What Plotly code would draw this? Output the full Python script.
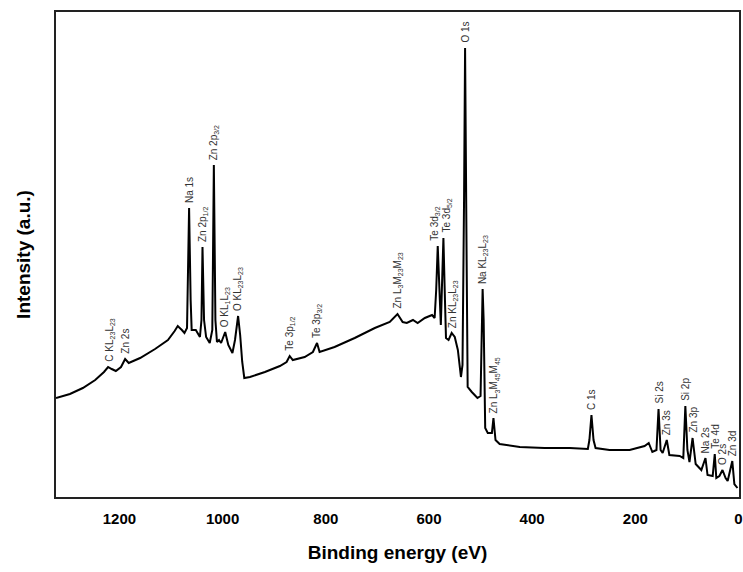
import plotly.graph_objects as go

# Binding energy (eV) and intensity (a.u.)
energy = [1323, 1296, 1271, 1247, 1230, 1222, 1215, 1207, 1197, 1189, 1182, 1160, 1131, 1106,
          1093, 1087, 1079, 1074, 1069, 1065, 1062, 1060, 1052, 1044, 1041, 1039, 1036, 1032,
          1025, 1020, 1017, 1014, 1011, 1007, 1003, 995, 989, 981, 976, 970, 966, 962, 958,
          947, 918, 889, 876, 870, 864, 841, 825, 817, 812, 783, 744, 705, 676, 661, 651, 643,
          631, 622, 608, 594, 589, 586, 583, 580, 577, 575, 572, 569, 567, 562, 556, 550, 544,
          538, 535, 532, 530, 527, 525, 517, 506, 500, 498, 496, 494, 491, 486, 478, 475, 471,
          463, 424, 376, 327, 292, 289, 285, 281, 277, 250, 211, 182, 174, 167, 159, 155, 151,
          147, 139, 134, 114, 107, 103, 99, 95, 89, 83, 72, 64, 60, 50, 46, 43, 37, 31, 25, 21,
          12, 8, 2]
intensity = [99, 103, 109, 117, 125, 130, 128, 126, 130, 138, 134, 139, 148, 157,
             166, 171, 167, 164, 169, 289, 197, 167, 167, 160, 177, 250, 177, 160,
             154, 167, 332, 177, 155, 157, 154, 165, 152, 144, 157, 181, 162, 135, 119,
             120, 125, 131, 135, 141, 137, 140, 145, 154, 145, 150, 159, 169, 175, 183, 175, 174,
             177, 174, 179, 182, 179, 207, 251, 207, 172, 207, 259, 197, 159, 157, 164, 160, 147,
             120, 132, 297, 449, 237, 110, 105, 99, 101, 157, 208, 177, 69, 64, 64, 79, 57,
             53, 50, 49, 49, 48, 57, 82, 57, 49, 47, 47, 51, 54, 45, 47, 88, 47,
             44, 57, 42, 41, 39, 91, 47, 35, 59, 33, 27, 39, 22, 21, 43, 19, 21, 27, 19, 16,
             36, 13, 9]

# Peak labels: text, energy, intensity at top of peak
peak_labels = ["C KL<sub>23</sub>L<sub>23</sub>", "Zn 2s", "Na 1s", "Zn 2p<sub>1/2</sub>",
               "Zn 2p<sub>3/2</sub>", "O KL<sub>1</sub>L<sub>23</sub>", "O KL<sub>23</sub>L<sub>23</sub>",
               "Te 3p<sub>1/2</sub>", "Te 3p<sub>3/2</sub>", "Zn L<sub>3</sub>M<sub>23</sub>M<sub>23</sub>",
               "Te 3d<sub>3/2</sub>", "Te 3d<sub>5/2</sub>", "Zn KL<sub>23</sub>L<sub>23</sub>", "O 1s",
               "Na KL<sub>23</sub>L<sub>23</sub>", "Zn L<sub>3</sub>M<sub>45</sub>M<sub>45</sub>", "C 1s",
               "Si 2s", "Zn 3s", "Si 2p", "Zn 3p", "Na 2s", "Te 4d", "O 2s", "Zn 3d"]
label_energy = [1220, 1189, 1065, 1039, 1017, 995, 970, 870, 817, 661, 589, 566, 553, 530,
                496, 473, 285, 155, 139, 103, 89, 64, 46, 31, 12]
label_intensity = [130, 138, 289, 250, 332, 165, 181, 141, 154, 183, 251, 259, 164, 449,
                   208, 79, 82, 88, 57, 91, 59, 39, 43, 27, 36]

x_ticks = [0, 200, 400, 600, 800, 1000, 1200]

fig = go.Figure()
fig.add_trace(go.Scatter(x=energy, y=intensity, mode="lines",
                         line=dict(color="black", width=2), showlegend=False))

for t, e, i in zip(peak_labels, label_energy, label_intensity):
    fig.add_annotation(x=e, y=i, text=t, textangle=-90, showarrow=False,
                       xanchor="center", yanchor="bottom", yshift=3,
                       font=dict(family="Liberation Sans, Arial", size=10, color="#333"))

fig.update_layout(
    width=743, height=572,
    margin=dict(l=56, r=4, t=12, b=75),
    paper_bgcolor="white", plot_bgcolor="white",
    font=dict(family="Liberation Sans, Arial", color="black"),
    xaxis=dict(range=[1323, -1], tickvals=x_ticks, ticks="", showgrid=False, zeroline=False,
               showline=True, mirror=True, linecolor="#222", linewidth=2, automargin=False,
               tickfont=dict(size=15, family="Liberation Sans, Arial", weight="bold"),
               ticklabelstandoff=7,
               title=dict(text="<b>Binding energy (eV)</b>", font=dict(size=19), standoff=20)),
    yaxis=dict(range=[0, 485], showticklabels=False, ticks="", showgrid=False, zeroline=False,
               showline=True, mirror=True, linecolor="#222", linewidth=2, automargin=False,
               title=dict(text="<b>Intensity (a.u.)</b>", font=dict(size=19), standoff=18)),
)

fig.write_html("out.html", config={"displayModeBar": False},
               post_script="document.body.style.margin='0';document.body.style.overflow='hidden';")
